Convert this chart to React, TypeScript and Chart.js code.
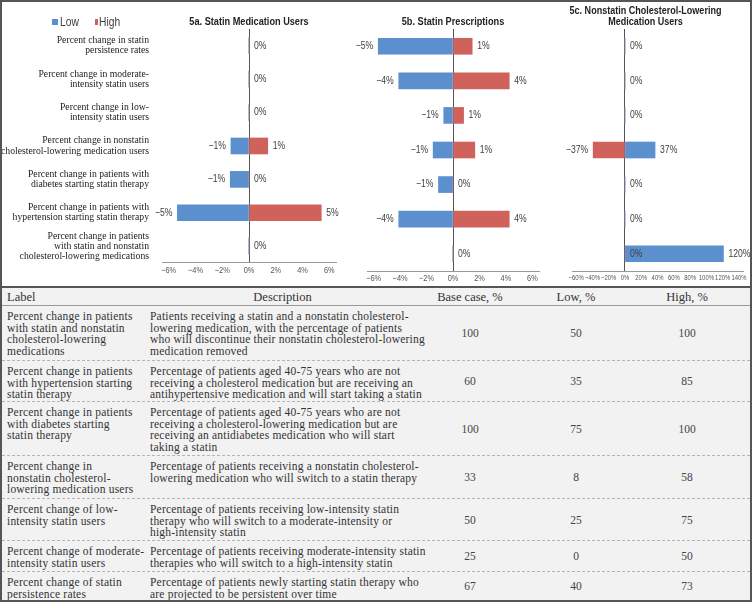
import React, { useEffect, useRef } from "react";
import { Chart, registerables } from "chart.js";
Chart.register(...registerables);

// ---------- chart data ----------
const categories: string[][] = [
  ["Percent change in statin", "persistence rates"],
  ["Percent change in moderate-", "intensity statin users"],
  ["Percent change in low-", "intensity statin users"],
  ["Percent change in nonstatin", "cholesterol-lowering medication users"],
  ["Percent change in patients with", "diabetes starting statin therapy"],
  ["Percent change in patients with", "hypertension starting statin therapy"],
  ["Percent change in patients", "with statin and nonstatin", "cholesterol-lowering medications"],
];
const seriesNames = ["Low", "High"];

const titleA = ["5a. Statin Medication Users"];
const lowA = [0, 0, 0, -1.35, -1.4, -5.35, 0];
const highA = [0, 0, 0, 1.4, 0, 5.4, 0];
const lowLabelA = [0, 0, 0, -1, -1, -5, 0];
const highLabelA = [0, 0, 0, 1, 0, 5, 0];

const titleB = ["5b. Statin Prescriptions"];
const lowB = [-5.65, -4.1, -0.7, -1.5, -1.1, -4.1, 0];
const highB = [1.45, 4.25, 0.8, 1.65, 0, 4.25, 0];
const lowLabelB = [-5, -4, -1, -1, -1, -4, 0];
const highLabelB = [1, 4, 1, 1, 0, 4, 0];

const titleC = ["5c. Nonstatin Cholesterol-Lowering", "Medication Users"];
const lowC = [0, 0, 0, 37, 0, 0, 121];
const highC = [0, 0, 0, -39, 0, 0, 0];
const lowLabelC = [0, 0, 0, 37, 0, 0, 120];
const highLabelC = [0, 0, 0, -37, 0, 0, 0];

const ticksAB = [-6, -4, -2, 0, 2, 4, 6];
const ticksC = [-60, -40, -20, 0, 20, 40, 60, 80, 100, 120, 140];

// ---------- table data ----------
const tableHeaders = ["Label", "Description", "Base case, %", "Low, %", "High, %"];
const tableLabels: string[][] = [
  ["Percent change in patients", "with statin and nonstatin", "cholesterol-lowering", "medications"],
  ["Percent change in patients", "with hypertension starting", "statin therapy"],
  ["Percent change in patients", "with diabetes starting", "statin therapy"],
  ["Percent change in", "nonstatin cholesterol-", "lowering medication users"],
  ["Percent change of low-", "intensity statin users"],
  ["Percent change of moderate-", "intensity statin users"],
  ["Percent change of statin", "persistence rates"],
];
const tableDescriptions: string[][] = [
  [
    "Patients receiving a statin and a nonstatin cholesterol-",
    "lowering medication, with the percentage of patients",
    "who will discontinue their nonstatin cholesterol-lowering",
    "medication removed",
  ],
  [
    "Percentage of patients aged 40-75 years who are not",
    "receiving a cholesterol medication but are receiving an",
    "antihypertensive medication and will start taking a statin",
  ],
  [
    "Percentage of patients aged 40-75 years who are not",
    "receiving a cholesterol-lowering medication but are",
    "receiving an antidiabetes medication who will start",
    "taking a statin",
  ],
  [
    "Percentage of patients receiving a nonstatin cholesterol-",
    "lowering medication who will switch to a statin therapy",
  ],
  [
    "Percentage of patients receiving low-intensity statin",
    "therapy who will switch to a moderate-intensity or",
    "high-intensity statin",
  ],
  [
    "Percentage of patients receiving moderate-intensity statin",
    "therapies who will switch to a high-intensity statin",
  ],
  [
    "Percentage of patients newly starting statin therapy who",
    "are projected to be persistent over time",
  ],
];
const baseCase = [100, 60, 100, 33, 50, 25, 67];
const lowPct = [50, 35, 75, 8, 25, 0, 40];
const highPct = [100, 85, 100, 58, 75, 50, 73];

// ---------- styling ----------
const BLUE = "#5B8FCE";
const RED = "#D0625C";
const SANS = '"Liberation Sans", Arial, sans-serif';
const SERIF = '"Liberation Serif", "DejaVu Serif", serif';
const NARROW = 0.82;
const rowHeights = [55, 41, 54, 43, 42, 31, 28];

const fmt = (v: number) => (v < 0 ? "\u2212" : "") + Math.abs(v) + "%";

function narrowText(ctx: any, txt: string, x: number, y: number, align: string, font: string, color: string) {
  ctx.save();
  ctx.translate(x, y);
  ctx.scale(NARROW, 1);
  ctx.font = font;
  ctx.fillStyle = color;
  ctx.textAlign = align;
  ctx.textBaseline = "middle";
  ctx.fillText(txt, 0, 0);
  ctx.restore();
}

const valueLabelPlugin = {
  id: "valueLabels",
  afterDatasetsDraw(chart: any) {
    const ctx = chart.ctx;
    const seen = new Set<string>();
    chart.data.datasets.forEach((ds: any, di: number) => {
      const meta = chart.getDatasetMeta(di);
      meta.data.forEach((bar: any, i: number) => {
        const v = ds.data[i];
        const txt = fmt(ds.valueLabels[i]);
        const neg = v < 0;
        const x = neg ? bar.x - 5 : bar.x + 5;
        const key = `${Math.round(x)}|${Math.round(bar.y)}|${txt}`;
        if (seen.has(key)) return;
        seen.add(key);
        narrowText(ctx, txt, x, bar.y, neg ? "right" : "left", `10.5px ${SANS}`, "#404040");
      });
    });
  },
};

const makeTickPlugin = (size: number) => ({
  id: "narrowTicks",
  afterDraw(chart: any) {
    const s = chart.scales.x;
    s.ticks.forEach((t: any) => {
      narrowText(chart.ctx, fmt(t.value), s.getPixelForValue(t.value), s.top + 7.5, "center", `${size}px ${SANS}`, "#555");
    });
  },
});

const makeTitlePlugin = (lines: string[], dx: number, size: number) => ({
  id: "panelTitle",
  afterDraw(chart: any) {
    const { ctx, chartArea } = chart;
    const cx = (chartArea.left + chartArea.right) / 2 + dx;
    lines.forEach((ln, i) =>
      narrowText(ctx, ln, cx, 22 - (lines.length - 1 - i) * 11, "center", `bold ${size}px ${SANS}`, "#222")
    );
  },
});

function makeConfig(p: {
  low: number[];
  high: number[];
  lowLbl: number[];
  highLbl: number[];
  min: number;
  max: number;
  ticks: number[];
  showY: boolean;
  padLeft: number;
  padRight: number;
  title: string[];
  titleDx: number;
  titleSize: number;
  tickSize: number;
}): any {
  return {
    type: "bar",
    data: {
      labels: categories,
      datasets: [
        { label: seriesNames[0], data: p.low, backgroundColor: BLUE, grouped: false, barThickness: 16, valueLabels: p.lowLbl },
        { label: seriesNames[1], data: p.high, backgroundColor: RED, grouped: false, barThickness: 16, valueLabels: p.highLbl },
      ],
    },
    options: {
      indexAxis: "y",
      responsive: false,
      maintainAspectRatio: false,
      animation: false,
      devicePixelRatio: 1,
      layout: { padding: { top: 29, bottom: 0, left: p.padLeft, right: p.padRight } },
      plugins: { legend: { display: false }, tooltip: { enabled: false }, title: { display: false } },
      scales: {
        x: {
          type: "linear",
          min: p.min,
          max: p.max,
          afterBuildTicks: (s: any) => {
            s.ticks = p.ticks.map((v) => ({ value: v }));
          },
          afterFit: (s: any) => {
            s.height = 15;
          },
          ticks: { display: false },
          grid: {
            drawTicks: false,
            lineWidth: 1,
            color: (c: any) => (c.tick && c.tick.value === 0 ? "#555" : "rgba(0,0,0,0)"),
          },
          border: { display: true, color: "#999" },
        },
        y: {
          display: p.showY,
          afterFit: (s: any) => {
            if (p.showY) s.width = 162;
          },
          grid: { display: false, drawTicks: false },
          border: { display: false },
          ticks: {
            autoSkip: false,
            padding: 13,
            color: "#222",
            font: { family: SERIF, size: 9.7, lineHeight: 1.04 },
          },
        },
      },
    },
    plugins: [valueLabelPlugin, makeTickPlugin(p.tickSize), makeTitlePlugin(p.title, p.titleDx, p.titleSize)],
  };
}

export default function App() {
  const refA = useRef<HTMLCanvasElement>(null);
  const refB = useRef<HTMLCanvasElement>(null);
  const refC = useRef<HTMLCanvasElement>(null);

  useEffect(() => {
    document.body.style.margin = "0";
    const charts = [
      new Chart(
        refA.current!,
        makeConfig({
          low: lowA, high: highA, lowLbl: lowLabelA, highLbl: highLabelA,
          min: -6.5, max: 6.5, ticks: ticksAB, showY: true, padLeft: 0, padRight: 16,
          title: titleA, titleDx: 0, titleSize: 11.2, tickSize: 9,
        })
      ),
      new Chart(
        refB.current!,
        makeConfig({
          low: lowB, high: highB, lowLbl: lowLabelB, highLbl: highLabelB,
          min: -6.5, max: 6.5, ticks: ticksAB, showY: false, padLeft: 15, padRight: 8,
          title: titleB, titleDx: 0, titleSize: 11.2, tickSize: 9,
        })
      ),
      new Chart(
        refC.current!,
        makeConfig({
          low: lowC, high: highC, lowLbl: lowLabelC, highLbl: highLabelC,
          min: -65, max: 145, ticks: ticksC, showY: false, padLeft: 25, padRight: 9,
          title: titleC, titleDx: -12, titleSize: 11, tickSize: 7.2,
        })
      ),
    ];
    return () => charts.forEach((c) => c.destroy());
  }, []);

  const cellText: React.CSSProperties = {
    boxSizing: "border-box",
    paddingTop: 5,
    paddingLeft: 5,
    lineHeight: "11.6px",
    fontSize: 11.5,
    letterSpacing: "0.2px",
    whiteSpace: "pre",
    color: "#333",
  };
  const numCell: React.CSSProperties = {
    boxSizing: "border-box",
    display: "flex",
    alignItems: "center",
    justifyContent: "center",
    fontSize: 11.5,
    color: "#444",
  };
  const colW = [143, 275, 100, 112, 110];

  return (
    <div style={{ position: "relative", width: 752, height: 602, background: "#fff", overflow: "hidden", fontFamily: SERIF }}>
      <canvas ref={refA} width={352} height={286} style={{ position: "absolute", left: 0, top: 0 }} />
      <canvas ref={refB} width={195} height={286} style={{ position: "absolute", left: 352, top: 0 }} />
      <canvas ref={refC} width={205} height={286} style={{ position: "absolute", left: 547, top: 0 }} />

      {/* legend */}
      <div style={{ position: "absolute", left: 52, top: 14, height: 16, display: "flex", alignItems: "center", fontFamily: SANS, fontSize: 12.5, color: "#404040" }}>
        {seriesNames.map((n, i) => (
          <div key={n} style={{ display: "flex", alignItems: "center", width: i === 0 ? 43 : 30 }}>
            <span style={{ display: "inline-block", width: 6, height: 6, background: i === 0 ? BLUE : RED, marginRight: 1.5 }} />
            <span style={{ display: "inline-block", transform: `scaleX(${NARROW})`, transformOrigin: "left center" }}>{n}</span>
          </div>
        ))}
      </div>

      {/* separator */}
      <div style={{ position: "absolute", left: 0, top: 286, width: 752, height: 2, background: "#555" }} />

      {/* table */}
      <div style={{ position: "absolute", left: 2, top: 288, width: 748, height: 312, background: "#f2f2f2" }}>
        <div style={{ display: "flex", height: 18, paddingTop: 2, boxSizing: "border-box", borderBottom: "1px solid #999", fontSize: 12.5, color: "#333", alignItems: "center" }}>
          {tableHeaders.map((h, i) => (
            <div key={h} style={{ width: colW[i], boxSizing: "border-box", paddingLeft: i === 0 ? 5 : 0, textAlign: i === 0 ? "left" : "center" }}>{h}</div>
          ))}
        </div>
        {tableLabels.map((lbl, r) => (
          <div
            key={r}
            style={{
              display: "flex",
              height: rowHeights[r],
              boxSizing: "border-box",
              borderBottom: r < tableLabels.length - 1 ? "1px dashed #b5b5b5" : "none",
            }}
          >
            <div style={{ ...cellText, width: colW[0] }}>{lbl.join("\n")}</div>
            <div style={{ ...cellText, width: colW[1] }}>{tableDescriptions[r].join("\n")}</div>
            <div style={{ ...numCell, width: colW[2] }}>{baseCase[r]}</div>
            <div style={{ ...numCell, width: colW[3] }}>{lowPct[r]}</div>
            <div style={{ ...numCell, width: colW[4] }}>{highPct[r]}</div>
          </div>
        ))}
      </div>

      {/* outer border */}
      <div style={{ position: "absolute", left: 0, top: 0, width: 752, height: 602, boxSizing: "border-box", border: "2px solid #555", pointerEvents: "none" }} />
    </div>
  );
}
